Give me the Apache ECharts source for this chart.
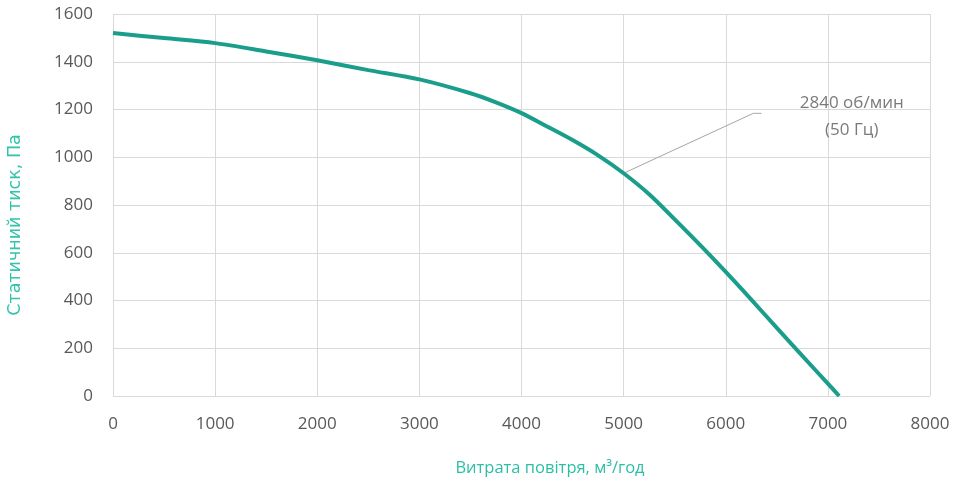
<!DOCTYPE html>
<html><head><meta charset="utf-8">
<script src="https://cdn.jsdelivr.net/npm/echarts@6/dist/echarts.min.js"></script>
<style>html,body{margin:0;padding:0;background:#fff}#c{width:954px;height:484px}</style>
</head><body><div id="c"></div>
<script>
const airflow = [0, 500, 1000, 1500, 2000, 2500, 3000, 3500, 3750, 4000, 4250, 4500, 4750, 5000, 5250, 5500, 5750, 6000, 6250, 6500, 6750, 7000, 7110];
const pressure = [1520, 1499, 1478, 1443, 1406, 1365, 1326, 1268, 1230, 1185, 1129, 1072, 1008, 933, 845, 740, 632, 520, 404, 285, 168, 52, 0];
const leaderX = [5000, 6270, 6350];
const leaderY = [933, 1184, 1184];
const noteX = 7234, noteY = 1170;
const noteText = '2840 об/мин\n(50 Гц)';
const xTitle = 'Витрата повітря, м³/год';
const yTitle = 'Статичний тиск, Па';

const chart = echarts.init(document.getElementById('c'));
chart.setOption({
  animation: false,
  backgroundColor: '#fff',
  grid: {left: 113, right: 24, top: 14, bottom: 88},
  xAxis: {
    type: 'value', min: 0, max: 8000, interval: 1000,
    axisLine: {show: false}, axisTick: {show: false},
    splitLine: {show: true, lineStyle: {color: '#d9d9d9', width: 1}},
    axisLabel: {color: '#595959', fontSize: 17, margin: 20, fontFamily: 'Open Sans', formatter: v => String(v)}
  },
  yAxis: {
    type: 'value', min: 0, max: 1600, interval: 200,
    axisLine: {show: false}, axisTick: {show: false},
    splitLine: {show: true, lineStyle: {color: '#d9d9d9', width: 1}},
    axisLabel: {color: '#595959', fontSize: 17, margin: 20, fontFamily: 'Open Sans', formatter: v => String(v)}
  },
  graphic: [
    {type: 'text', x: 550, y: 468,
     style: {text: xTitle, fill: '#2dbfa6', fontSize: 16.5, fontFamily: 'Open Sans', align: 'center', verticalAlign: 'middle'}},
    {type: 'text', rotation: Math.PI / 2, x: 15, y: 225,
     style: {text: yTitle, fill: '#33c4ab', fontSize: 17.5, fontFamily: 'DejaVu Sans', align: 'center', verticalAlign: 'middle'}}
  ],
  series: [
    {type: 'line', data: airflow.map((x, i) => [x, pressure[i]]), smooth: 0.3, showSymbol: false,
     lineStyle: {color: '#1a9e8b', width: 4}, z: 3},
    {type: 'line', data: leaderX.map((x, i) => [x, leaderY[i]]), showSymbol: false,
     lineStyle: {color: '#a6a6a6', width: 1}, z: 2},
    {type: 'scatter', data: [[noteX, noteY]], symbolSize: 0,
     label: {show: true, position: 'inside', formatter: noteText, color: '#595959', fontSize: 17,
       lineHeight: 27, align: 'center', fontFamily: 'Open Sans'}}
  ]
});
</script></body></html>
